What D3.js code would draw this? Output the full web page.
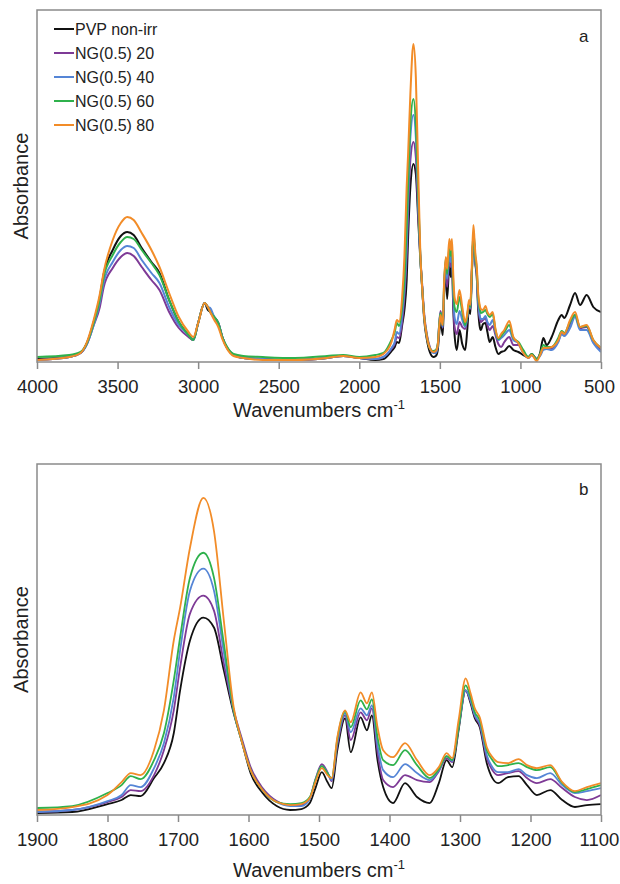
<!DOCTYPE html>
<html>
<head>
<meta charset="utf-8">
<script src="https://cdn.jsdelivr.net/npm/d3@7"></script>
<style>
  body { margin: 0; background: #fff; }
  svg { display: block; font-family: "Liberation Sans", Arial, sans-serif; }
</style>
</head>
<body>
<svg id="chart" width="620" height="884"></svg>
<script>
// Wavenumbers (cm-1) shared by all spectra, high to low
var wavenumbers = [
    4000, 3800, 3730, 3690, 3650, 3610, 3586, 3530, 3480, 3440,
    3400, 3350, 3290, 3240, 3180, 3120, 3060, 3030, 3000, 2960,
    2940, 2925, 2900, 2875, 2850, 2820, 2780, 2720, 2600, 2400,
    2200, 2100, 2000, 1900, 1850, 1800, 1780, 1767, 1753, 1734,
    1720, 1706, 1697, 1683, 1664, 1649, 1635, 1621, 1610, 1597,
    1580, 1560, 1541, 1525, 1513, 1505, 1496, 1488, 1482, 1474,
    1463, 1455, 1441, 1432, 1425, 1417, 1409, 1395, 1378, 1361,
    1343, 1330, 1319, 1311, 1302, 1292, 1285, 1279, 1272, 1262,
    1254, 1246, 1232, 1217, 1205, 1191, 1172, 1155, 1137, 1120,
    1100, 1069, 1044, 1013, 982, 951, 930, 899, 878, 858,
    837, 806, 765, 744, 728, 692, 661, 630, 589, 548,
    500
];

// Absorbance of each sample at those wavenumbers
var pvpNonIrr = [
    .003, .005, .009, .019, .039, .065, .088, .112, .126, .130,
    .127, .114, .100, .089, .062, .040, .027, .022, .039, .059,
    .052, .050, .045, .039, .025, .014, .007, .004, .003, .002,
    .004, .006, .004, .002, .003, .011, .015, .020, .019, .037,
    .052, .082, .125, .175, .198, .188, .145, .102, .075, .042,
    .022, .009, .005, .006, .012, .027, .043, .033, .027, .065,
    .097, .063, .098, .085, .100, .055, .028, .012, .032, .018,
    .012, .032, .055, .048, .085, .125, .112, .097, .088, .052,
    .037, .032, .038, .039, .030, .020, .025, .015, .008, .010,
    .011, .016, .012, .010, .007, .005, .008, .003, .009, .024,
    .017, .025, .042, .047, .044, .057, .069, .057, .067, .055,
    .050
];
var ng20 = [
    .002, .005, .009, .018, .036, .055, .075, .094, .105, .109,
    .106, .095, .082, .072, .050, .034, .025, .022, .039, .059,
    .055, .050, .044, .039, .025, .014, .007, .004, .003, .002,
    .004, .006, .004, .003, .005, .013, .018, .025, .024, .040,
    .065, .105, .148, .202, .220, .205, .152, .105, .078, .048,
    .027, .014, .010, .010, .017, .036, .051, .043, .034, .070,
    .100, .075, .103, .095, .107, .063, .035, .028, .040, .035,
    .033, .044, .057, .053, .088, .125, .114, .099, .090, .057,
    .045, .040, .042, .044, .037, .032, .036, .027, .018, .015,
    .020, .025, .017, .017, .009, .004, .007, .003, .007, .013,
    .014, .013, .021, .029, .027, .038, .047, .034, .035, .020,
    .012
];
var ng40 = [
    .002, .005, .009, .018, .036, .060, .080, .100, .112, .116,
    .114, .102, .089, .079, .055, .037, .027, .022, .039, .059,
    .055, .054, .045, .039, .025, .014, .007, .004, .003, .002,
    .004, .006, .004, .003, .005, .014, .020, .030, .028, .047,
    .072, .118, .165, .225, .247, .225, .163, .104, .075, .045,
    .025, .013, .009, .009, .016, .035, .049, .042, .035, .073,
    .102, .083, .107, .100, .110, .070, .045, .038, .051, .042,
    .035, .045, .059, .054, .088, .125, .115, .100, .092, .060,
    .048, .043, .043, .046, .040, .037, .042, .030, .022, .024,
    .027, .032, .022, .019, .009, .004, .007, .003, .006, .012,
    .013, .012, .020, .028, .026, .034, .045, .032, .032, .019,
    .010
];
var ng60 = [
    .005, .007, .010, .019, .038, .063, .085, .107, .120, .125,
    .123, .112, .099, .087, .062, .040, .027, .022, .039, .059,
    .055, .050, .045, .039, .025, .015, .008, .006, .005, .004,
    .006, .007, .005, .007, .009, .022, .030, .039, .036, .055,
    .082, .135, .178, .238, .263, .238, .172, .105, .075, .045,
    .025, .013, .011, .012, .018, .035, .049, .042, .037, .076,
    .104, .088, .115, .106, .116, .078, .055, .050, .065, .050,
    .037, .046, .059, .055, .088, .130, .118, .103, .095, .065,
    .055, .049, .050, .052, .048, .045, .048, .032, .023, .026,
    .030, .037, .024, .020, .012, .005, .008, .003, .008, .017,
    .015, .015, .024, .031, .029, .040, .047, .035, .036, .022,
    .014
];
var ng80 = [
    .002, .005, .009, .020, .041, .068, .090, .122, .139, .145,
    .142, .129, .112, .095, .069, .045, .030, .025, .039, .059,
    .055, .050, .042, .035, .023, .013, .006, .004, .002, .002,
    .004, .006, .004, .005, .008, .020, .033, .042, .040, .065,
    .105, .175, .208, .268, .318, .285, .195, .108, .075, .045,
    .025, .013, .010, .011, .017, .033, .047, .040, .037, .078,
    .105, .093, .123, .112, .123, .088, .065, .058, .072, .055,
    .040, .048, .062, .057, .095, .137, .122, .107, .098, .068,
    .058, .053, .052, .056, .050, .047, .050, .033, .024, .028,
    .032, .041, .025, .019, .009, .004, .007, .001, .007, .014,
    .014, .015, .022, .030, .028, .042, .050, .035, .037, .022,
    .014
];

var seriesNames = ["PVP non-irr", "NG(0.5) 20", "NG(0.5) 40", "NG(0.5) 60", "NG(0.5) 80"];
var seriesColors = ["#111111", "#7e3a96", "#5585d6", "#2fb14c", "#f28c28"];
var seriesValues = [pvpNonIrr, ng20, ng40, ng60, ng80];

var ticksA = [4000, 3500, 3000, 2500, 2000, 1500, 1000, 500];
var ticksB = [1900, 1800, 1700, 1600, 1500, 1400, 1300, 1200, 1100];

var svg = d3.select("#chart");

/**
 * Draws one spectrum panel: frame, bottom axis, titles and the five curves
 */
function renderPanel(opts) {
    var x = d3.scaleLinear()
        .domain([opts.from, opts.to])
        .range([opts.left, opts.right]);

    var y = d3.scaleLinear()
        .domain([0, 0.352])
        .range([opts.bottom, opts.top]);

    var g = svg.append("g");

    // Clip curves to the plot box
    g.append("clipPath")
        .attr("id", opts.id + "-clip")
        .append("rect")
        .attr("x", opts.left)
        .attr("y", opts.top)
        .attr("width", opts.right - opts.left)
        .attr("height", opts.bottom - opts.top + 2);

    var line = d3.line()
        .x(function(d) { return x(d.w); })
        .y(function(d) { return y(d.a); })
        .curve(d3.curveMonotoneX);

    var curves = g.append("g").attr("clip-path", "url(#" + opts.id + "-clip)");
    seriesValues.forEach(function(values, i) {
        var pts = [];
        for (var j = 0; j < wavenumbers.length; j++) {
            var w = wavenumbers[j];
            if (w <= opts.from && w >= opts.to) {
                pts.push({ w: w, a: values[j] });
            }
        }
        curves.append("path")
            .datum(pts)
            .attr("d", line)
            .style("fill", "none")
            .style("stroke", seriesColors[i])
            .style("stroke-width", opts.lineWidth)
            .style("stroke-linejoin", "round");
    });

    // Frame
    g.append("rect")
        .attr("x", opts.left)
        .attr("y", opts.top)
        .attr("width", opts.right - opts.left)
        .attr("height", opts.bottom - opts.top)
        .style("fill", "none")
        .style("stroke", "#8a8a8a")
        .style("stroke-width", 1.5);

    // Bottom axis
    var axis = g.append("g")
        .attr("transform", "translate(0," + opts.bottom + ")")
        .call(d3.axisBottom(x).tickValues(opts.ticks).tickSize(7).tickPadding(11).tickFormat(d3.format("d")));
    axis.select(".domain").remove();
    axis.selectAll(".tick line").style("stroke", "#8a8a8a").style("stroke-width", 1.5);
    axis.selectAll(".tick text")
        .style("font-family", "Liberation Sans, Arial, sans-serif")
        .style("font-size", "18.5px")
        .style("fill", "#222");
    // keep the last label inside the page
    axis.selectAll(".tick text")
        .filter(function(d) { return d === opts.to; })
        .attr("dx", -2);

    // Axis titles
    var xt = g.append("text")
        .attr("x", (opts.left + opts.right) / 2)
        .attr("y", opts.titleY)
        .attr("text-anchor", "middle")
        .style("font-size", "20px")
        .style("fill", "#222")
        .text("Wavenumbers cm");
    xt.append("tspan")
        .attr("dy", -8)
        .style("font-size", "13px")
        .text("-1");

    g.append("text")
        .attr("transform", "translate(28," + (opts.top + opts.bottom) / 2 + ") rotate(-90)")
        .attr("text-anchor", "middle")
        .style("font-size", "20px")
        .style("fill", "#222")
        .text("Absorbance");

    // Panel letter
    g.append("text")
        .attr("x", opts.right - 22)
        .attr("y", opts.top + opts.letterDy)
        .style("font-size", "17px")
        .style("fill", "#222")
        .text(opts.letter);

    return g;
}

var panelA = renderPanel({
    id: "a", from: 4000, to: 500, ticks: ticksA,
    left: 37, right: 601, top: 10, bottom: 362,
    titleY: 417, letter: "a", letterDy: 32, lineWidth: 2
});

renderPanel({
    id: "b", from: 1900, to: 1100, ticks: ticksB,
    left: 37, right: 601, top: 464, bottom: 815,
    titleY: 877, letter: "b", letterDy: 31, lineWidth: 1.8
});

// Legend in panel a
var legend = panelA.append("g");
seriesNames.forEach(function(name, i) {
    var ly = 29 + i * 24;
    legend.append("line")
        .attr("x1", 54).attr("x2", 74)
        .attr("y1", ly).attr("y2", ly)
        .style("stroke", seriesColors[i])
        .style("stroke-width", 2);
    legend.append("text")
        .attr("x", 75)
        .attr("y", ly + 6)
        .style("font-size", "16px")
        .style("fill", "#222")
        .text(name);
});
</script>
</body>
</html>
